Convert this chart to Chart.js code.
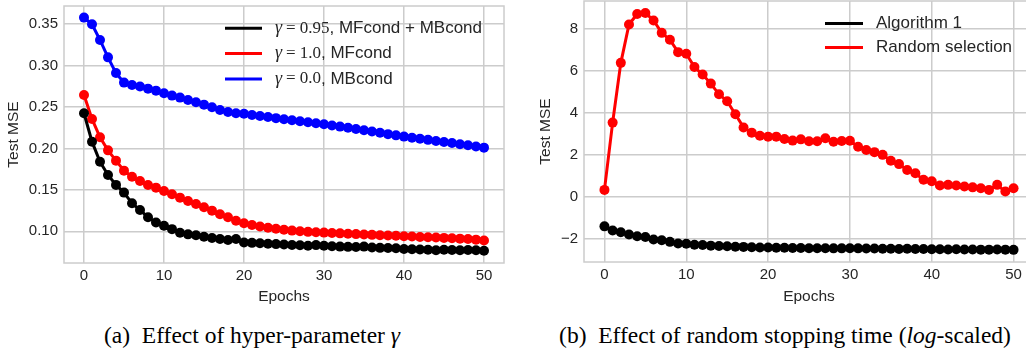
<!DOCTYPE html>
<html>
<head>
<meta charset="utf-8">
<script src="https://cdn.jsdelivr.net/npm/chart.js@4/dist/chart.umd.min.js"></script>
<style>
  body { margin: 0; width: 1026px; height: 352px; overflow: hidden; background: #fff; position: relative; }
  .box { position: absolute; }
  .cap { position: absolute; top: 324px; line-height: 23px; text-align: center; white-space: nowrap;
         font-family: "Liberation Serif", "DejaVu Serif", serif; font-size: 23.5px; color: #000; }
</style>
</head>
<body>
<div class="box" style="left:0;top:0;width:510px;height:310px"><canvas id="chartA"></canvas></div>
<div class="box" style="left:510px;top:-4px;width:540px;height:314px"><canvas id="chartB"></canvas></div>
<div class="cap" style="left:0;width:504px">(a)&nbsp; Effect of hyper-parameter <i>γ</i></div>
<div class="cap" style="left:530px;width:510px">(b)&nbsp; Effect of random stopping time (<i>log</i>-scaled)</div>
<script>
// x values shared by all series
const epochs = [0,1,2,3,4,5,6,7,8,9,10,11,12,13,14,15,16,17,18,19,20,21,22,23,24,25,
  26,27,28,29,30,31,32,33,34,35,36,37,38,39,40,41,42,43,44,45,46,47,48,49,50];
const xTicks = [0, 10, 20, 30, 40, 50];

// (a) hyper-parameter gamma
const gammaValues = ['0.95', '1.0', '0.0'];
const condNames = ['MFcond + MBcond', 'MFcond', 'MBcond'];
const mseGamma095 = [0.2425,0.2082,0.184,0.168,0.156,0.1467,0.1338,0.1257,0.1169,0.1106,
  0.1066,0.1026,0.0983,0.0963,0.0951,0.0934,0.0918,0.0906,0.0894,0.0906,
  0.0865,0.086,0.0855,0.085,0.0845,0.084,0.0835,0.0832,0.0826,0.0833,
  0.0825,0.082,0.0815,0.0812,0.081,0.0815,0.0805,0.080,0.0798,0.0795,
  0.0785,0.0782,0.078,0.0778,0.077,0.0778,0.0775,0.0772,0.0775,0.077,0.0765];
const mseGamma10 = [0.2645,0.2356,0.2135,0.1977,0.1853,0.1732,0.1659,0.1607,0.1559,0.1527,
  0.1487,0.1447,0.1406,0.1366,0.133,0.129,0.1249,0.1205,0.1169,0.1128,
  0.1097,0.1075,0.1058,0.1043,0.103,0.1018,0.1008,0.1,0.0993,0.0988,
  0.0984,0.0979,0.0975,0.097,0.0966,0.0961,0.0957,0.0953,0.0949,0.0945,
  0.094,0.0936,0.0932,0.0928,0.0924,0.092,0.0916,0.0911,0.0906,0.0899,0.0889];
const mseGamma00 = [0.358,0.350,0.331,0.310,0.291,0.2795,0.2767,0.2747,0.2722,0.2698,
  0.2667,0.2638,0.2614,0.2586,0.2558,0.2529,0.2498,0.2465,0.2441,0.2425,
  0.242,0.2405,0.2392,0.2379,0.2366,0.2353,0.234,0.2328,0.2316,0.2304,
  0.2292,0.2278,0.2264,0.2249,0.2234,0.2219,0.2204,0.2189,0.2173,0.2158,
  0.2143,0.213,0.2117,0.2104,0.2091,0.2078,0.2065,0.2051,0.2038,0.2024,0.201];
const yTicksA = [0.10, 0.15, 0.20, 0.25, 0.30, 0.35];

// (b) random stopping time, log-scaled
const stopNames = ['Algorithm 1', 'Random selection'];
const mseAlgorithm1 = [-1.42,-1.62,-1.70,-1.81,-1.89,-1.93,-2.05,-2.08,-2.16,-2.24,
  -2.25,-2.30,-2.31,-2.34,-2.36,-2.37,-2.39,-2.40,-2.42,-2.43,
  -2.43,-2.44,-2.44,-2.45,-2.45,-2.46,-2.46,-2.46,-2.47,-2.47,
  -2.46,-2.47,-2.48,-2.48,-2.49,-2.49,-2.50,-2.49,-2.50,-2.50,
  -2.51,-2.51,-2.52,-2.51,-2.52,-2.52,-2.53,-2.53,-2.52,-2.53,-2.54];
const mseRandom = [0.32,3.53,6.38,8.21,8.71,8.76,8.40,7.81,7.48,6.89,
  6.81,6.18,5.82,5.39,4.88,4.55,3.93,3.30,3.05,2.90,
  2.86,2.86,2.75,2.67,2.73,2.64,2.64,2.78,2.62,2.65,
  2.66,2.38,2.22,2.12,1.99,1.71,1.55,1.27,1.11,0.80,
  0.73,0.53,0.56,0.53,0.48,0.44,0.40,0.32,0.56,0.24,0.40];
const yTicksB = [-2, 0, 2, 4, 6, 8];

const ink = '#262626';
const gridGrey = '#cccccc';
const sans = '"Liberation Sans", Arial, sans-serif';
const serif = '"Liberation Serif", "DejaVu Serif", serif';

// light grey box round the plot area (seaborn whitegrid spines)
const frame = {
  id: 'frame',
  beforeDatasetsDraw(chart) {
    const a = chart.chartArea, c = chart.ctx;
    c.save();
    c.strokeStyle = gridGrey;
    c.lineWidth = 1.5;
    c.strokeRect(a.left, a.top, a.right - a.left, a.bottom - a.top);
    c.restore();
  }
};

// legend drawn inside the plot, like matplotlib's loc='upper right'
const inLegend = {
  id: 'inLegend',
  afterDatasetsDraw(chart, args, opts) {
    const c = chart.ctx;
    chart.data.datasets.forEach((ds, i) => {
      const y = opts.y + i * opts.dy;
      c.save();
      c.strokeStyle = ds.borderColor;
      c.lineWidth = 3;
      c.beginPath();
      c.moveTo(opts.x, y);
      c.lineTo(opts.x + opts.len, y);
      c.stroke();
      c.fillStyle = ink;
      c.textBaseline = 'middle';
      let x = opts.x + opts.len + opts.gap;
      let text = ds.label;
      if (ds.gamma) {
        c.font = 'italic 18px ' + serif;
        c.fillText('γ', x, y);
        x += c.measureText('γ').width + 4;
        c.font = '17px ' + serif;
        c.fillText('=', x, y);
        x += c.measureText('=').width + 4;
        c.fillText(ds.gamma, x, y);
        x += c.measureText(ds.gamma).width;
        text = ', ' + ds.cond;
      }
      c.font = '17px ' + sans;
      c.fillText(text, x, y);
      c.restore();
    });
  }
};

function series(label, values, color, extra) {
  return Object.assign({
    label: label,
    data: epochs.map((e, i) => ({ x: e, y: values[i] })),
    borderColor: color,
    backgroundColor: color,
    borderWidth: 3,
    pointRadius: 5,
    pointBorderWidth: 0,
    pointBackgroundColor: color,
    tension: 0
  }, extra || {});
}

function axes(yMin, yMax, yTicks, fmt, yWidth, xHeight) {
  const tickFont = { family: sans, size: 15 };
  const titleFont = { family: sans, size: 15.5 };
  return {
    x: {
      type: 'linear', min: -2.5, max: 52.5,
      afterBuildTicks: s => { s.ticks = xTicks.map(v => ({ value: v })); },
      afterFit: s => { s.height = xHeight; s.paddingLeft = 0; s.paddingRight = 0; },
      ticks: { font: tickFont, color: ink, padding: 4, maxRotation: 0, autoSkip: false, callback: v => String(v) },
      grid: { color: gridGrey, lineWidth: 1.5, drawTicks: false },
      border: { display: false },
      title: { display: true, text: 'Epochs', font: titleFont, color: ink, padding: { top: 0, bottom: 4 } }
    },
    y: {
      min: yMin, max: yMax,
      afterBuildTicks: s => { s.ticks = yTicks.map(v => ({ value: v })); },
      afterFit: s => { s.width = yWidth; s.paddingTop = 0; s.paddingBottom = 0; },
      ticks: { font: tickFont, color: ink, padding: 6, autoSkip: false, callback: fmt },
      grid: { color: gridGrey, lineWidth: 1.5, drawTicks: false },
      border: { display: false },
      title: { display: true, text: 'Test MSE', font: titleFont, color: ink, padding: 4 }
    }
  };
}

new Chart(document.getElementById('chartA'), {
  type: 'line',
  data: {
    datasets: [
      series('γ = ' + gammaValues[0] + ', ' + condNames[0], mseGamma095, '#000000', { gamma: gammaValues[0], cond: condNames[0] }),
      series('γ = ' + gammaValues[1] + ', ' + condNames[1], mseGamma10, '#ff0000', { gamma: gammaValues[1], cond: condNames[1] }),
      series('γ = ' + gammaValues[2] + ', ' + condNames[2], mseGamma00, '#0000ff', { gamma: gammaValues[2], cond: condNames[2] })
    ]
  },
  options: {
    responsive: true,
    maintainAspectRatio: false,
    animation: false,
    layout: { padding: { top: 6, right: 6, left: 0, bottom: 0 } },
    scales: axes(0.0617, 0.372, yTicksA, v => v.toFixed(2), 64, 47),
    plugins: {
      legend: { display: false },
      tooltip: { enabled: false },
      inLegend: { x: 225, len: 37, gap: 13, y: 28.3, dy: 25.3 }
    }
  },
  plugins: [frame, inLegend]
});

new Chart(document.getElementById('chartB'), {
  type: 'line',
  data: {
    datasets: [
      series(stopNames[0], mseAlgorithm1, '#000000'),
      series(stopNames[1], mseRandom, '#ff0000')
    ]
  },
  options: {
    responsive: true,
    maintainAspectRatio: false,
    animation: false,
    layout: { padding: { top: 3, right: 16, left: 22, bottom: 0 } },
    scales: axes(-3.12, 9.33, yTicksB, v => (v < 0 ? '\u2212' + Math.abs(v) : String(v)), 52, 48),
    plugins: {
      legend: { display: false },
      tooltip: { enabled: false },
      inLegend: { x: 315, len: 38, gap: 13, y: 27.5, dy: 24 }
    }
  },
  plugins: [frame, inLegend]
});
</script>
</body>
</html>
